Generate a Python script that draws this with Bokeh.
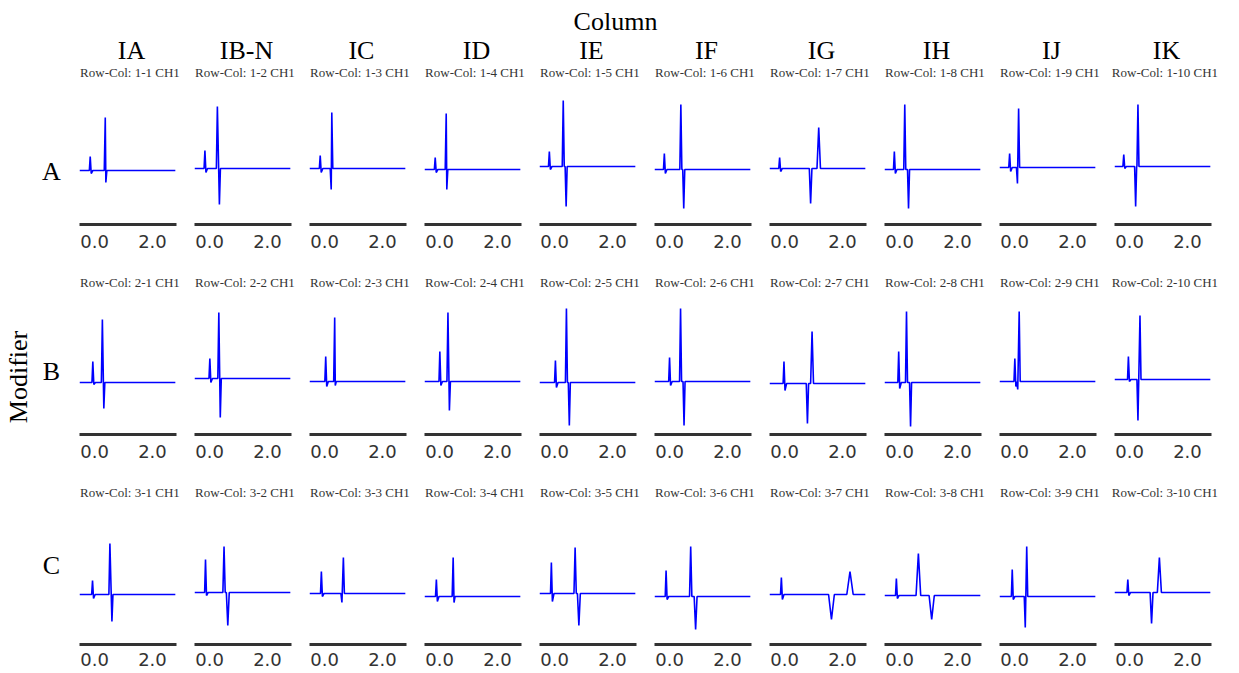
from bokeh.plotting import figure
from bokeh.layouts import row, column
from bokeh.models import Range1d, FixedTicker
from bokeh.embed import file_html
from bokeh.resources import INLINE
from bokeh.core.properties import value
import math

# ---------------- data ----------------
columns = ["IA", "IB-N", "IC", "ID", "IE", "IF", "IG", "IH", "IJ", "IK"]
modifiers = ["A", "B", "C"]
tick_values = [0, 2]
tick_labels = ["0.0", "2.0"]
time_start = -0.52
time_end = 2.79

# signal levels (arbitrary units, up is positive), one list per modifier row
baseline = [
    [-1, 1, 1, 0, 3, 0, 1, 0, 2, 3],
    [-3, 1, -2, -2, -3, -2, -4, -3, -2, 0],
    [-5, -3, -4, -7, -4, -7, -5, -6, -7, -3],
]
inj_time = [
    [-0.15, -0.16, -0.15, -0.15, -0.18, -0.18, -0.17, -0.18, -0.17, -0.20],
    [-0.06, 0.01, 0.04, 0.01, 0.03, 0.00, -0.02, -0.03, 0.01, -0.04],
    [-0.07, -0.14, -0.11, -0.11, -0.11, -0.12, -0.11, -0.11, -0.08, -0.06],
]
inj_top = [
    [13, 19, 14, 12, 18, 16, 12, 18, 16, 15],
    [18, 21, 23, 28, 19, 22, 18, 28, 21, 23],
    [9, 30, 18, 10, 27, 19, 12, 11, 20, 10],
]
inj_dip = [
    [-4, -3, -3, -3, 0, -4, -2, -4, -2, 1],
    [-5, -3, -7, -6, -8, -6, -11, -9, -7, -2],
    [-9, -6, -7, -12, -12, -10, -10, -9, -10, -6],
]
peak_time = [
    [0.37, 0.27, 0.25, 0.23, 0.30, 0.39, 1.18, 0.18, 0.14, 0.29],
    [0.27, 0.32, 0.35, 0.29, 0.41, 0.38, 0.95, 0.24, 0.16, 0.36],
    [0.53, 0.50, 0.65, 0.47, 0.71, 0.73, 2.26, 0.65, 0.42, 1.03],
]
peak_top = [
    [52, 63, 57, 56, 69, 65, 42, 65, 61, 65],
    [60, 67, 62, 67, 71, 71, 48, 68, 68, 64],
    [46, 43, 32, 32, 42, 43, 18, 36, 43, 32],
]
peak_halfwidth = [
    [0.035, 0.035, 0.035, 0.035, 0.035, 0.035, 0.06, 0.035, 0.035, 0.035],
    [0.035, 0.035, 0.035, 0.035, 0.035, 0.035, 0.05, 0.035, 0.035, 0.035],
    [0.035, 0.04, 0.035, 0.035, 0.04, 0.04, 0.11, 0.08, 0.035, 0.07],
]
dip_time = [
    [0.39, 0.34, 0.23, 0.25, 0.40, 0.49, 0.90, 0.31, 0.10, 0.21],
    [0.32, 0.37, 0.37, 0.34, 0.51, 0.50, 0.79, 0.38, 0.11, 0.29],
    [0.60, 0.63, 0.60, 0.50, 0.84, 0.90, 1.62, 1.11, 0.37, 0.76],
]
dip_bottom = [
    [-13, -35, -20, -20, -37, -39, -34, -39, -14, -37],
    [-29, -38, -6, -31, -46, -46, -44, -47, -10, -41],
    [-32, -36, -13, -13, -36, -40, -30, -30, -38, -34],
]
dip_halfwidth = [
    [0.035, 0.035, 0.035, 0.035, 0.035, 0.035, 0.045, 0.035, 0.035, 0.035],
    [0.035, 0.035, 0.035, 0.035, 0.035, 0.035, 0.04, 0.035, 0.035, 0.035],
    [0.035, 0.05, 0.035, 0.035, 0.05, 0.05, 0.10, 0.09, 0.035, 0.05],
]

# ---------------- styling / layout constants ----------------
SERIF = "Liberation Serif"
SANS = "DejaVu Sans"
TRACE = "#0000FF"
AXIS = "#333333"
SUBTITLE = "#333333"
PITCH = 115
FRAME_W = 97
FRAME_H = 136
LABEL_W = 70
GRID_W = PITCH * len(columns)
TOP_H = 82          # strip with "Column", column names and first subtitles
SUB_H = 20          # strip holding the subtitles of rows 2 and 3
PANEL_TOP = 6
PANEL_BOTTOM = [48, 48, 29]
LABEL_STANDOFF = [10, 10, 8]


def blank(width, height, x_range, y_range):
    f = figure(width=width, height=height, x_range=x_range, y_range=y_range,
               output_backend="svg", toolbar_location=None, title=None,
               x_axis_location=None, y_axis_location=None, min_border=0)
    f.xgrid.visible = False
    f.ygrid.visible = False
    f.outline_line_color = None
    f.background_fill_color = None
    f.border_fill_color = None
    return f


def build_trace(r, c):
    b = baseline[r][c]
    ti = inj_time[r][c]
    xs = [time_start, ti - 0.03, ti, ti + 0.035]
    ys = [b, b, inj_top[r][c], inj_dip[r][c]]
    feats = sorted([
        (peak_time[r][c], peak_top[r][c], peak_halfwidth[r][c]),
        (dip_time[r][c], dip_bottom[r][c], dip_halfwidth[r][c]),
    ])
    (t1, v1, w1), (t2, v2, w2) = feats
    if ti + 0.09 < t1 - w1:
        xs.append(ti + 0.09)
        ys.append(b)
    if t1 + w1 < t2 - w2:
        xs += [t1 - w1, t1, t1 + w1, t2 - w2, t2, t2 + w2]
        ys += [b, v1, b, b, v2, b]
    else:
        xs += [t1 - w1, t1, t2, t2 + w2]
        ys += [b, v1, v2, b]
    xs.append(time_end)
    ys.append(b)
    return xs, ys


def make_panel(r, c):
    p = figure(
        frame_width=FRAME_W, frame_height=FRAME_H,
        x_range=Range1d(-0.52, 2.83), y_range=Range1d(-55, 81),
        output_backend="svg", toolbar_location=None, y_axis_location=None,
        title=None,
        min_border_left=9, min_border_right=PITCH - FRAME_W - 9,
        min_border_top=PANEL_TOP, min_border_bottom=PANEL_BOTTOM[r],
    )
    xs, ys = build_trace(r, c)
    p.line(xs, ys, line_color=TRACE, line_width=1.6)
    ax = p.xaxis[0]
    ax.ticker = FixedTicker(ticks=tick_values)
    ax.major_label_overrides = dict(zip(tick_values, tick_labels))
    ax.major_tick_line_color = None
    ax.minor_tick_line_color = None
    ax.major_tick_out = 0
    ax.major_tick_in = 0
    ax.axis_line_width = 3
    ax.axis_line_color = AXIS
    ax.major_label_text_font = SANS
    ax.major_label_text_font_size = "18px"
    ax.major_label_text_color = AXIS
    ax.major_label_standoff = LABEL_STANDOFF[r]
    p.xgrid.visible = False
    p.ygrid.visible = False
    p.outline_line_color = None
    p.background_fill_color = None
    p.border_fill_color = None
    return p


def add_subtitles(f, r, y):
    f.text(x=[c + 0.517 for c in range(len(columns))], y=[y] * len(columns),
           text=[f"Row-Col: {r + 1}-{c + 1} CH1" for c in range(len(columns))],
           text_font=value(SERIF), text_font_size="13px", text_align="center",
           text_baseline="alphabetic", text_color=SUBTITLE)


# top strip: "Column", column names, subtitles of the first row
top = blank(GRID_W, TOP_H, Range1d(0, len(columns)), Range1d(TOP_H, 0))
top.text(x=[4.739], y=[20.5], text=["Column"],
         text_font=value(SERIF), text_font_size="26px", text_align="center",
         text_baseline="alphabetic", text_color="#000000")
top.text(x=[c + 0.53 for c in range(len(columns))], y=[49.5] * len(columns), text=columns,
         text_font=value(SERIF), text_font_size="26px", text_align="center",
         text_baseline="alphabetic", text_color="#000000")
add_subtitles(top, 0, 71.7)

stack = [top]
for r in range(len(modifiers)):
    if r > 0:
        s = blank(GRID_W, SUB_H, Range1d(0, len(columns)), Range1d(SUB_H, 0))
        add_subtitles(s, r, 9.7)
        stack.append(s)
    stack.append(row(*[make_panel(r, c) for c in range(len(columns))]))

grid = column(*stack)

# left strip with the modifier labels
total_h = TOP_H + 2 * SUB_H + 3 * (PANEL_TOP + FRAME_H) + sum(PANEL_BOTTOM)
labels = blank(LABEL_W, total_h, Range1d(0, LABEL_W), Range1d(total_h, 0))
labels.text(x=[51, 51, 51], y=[171, 371, 565], text=modifiers,
            text_font=value(SERIF), text_font_size="26px", text_align="center",
            text_baseline="alphabetic", text_color="#000000")
labels.text(x=[17.5], y=[376.5], text=["Modifier"], angle=math.pi / 2,
            text_font=value(SERIF), text_font_size="26px", text_align="center",
            text_baseline="alphabetic", text_color="#000000")

layout = row(labels, grid)
open("out.html", "w").write(file_html(layout, INLINE))
